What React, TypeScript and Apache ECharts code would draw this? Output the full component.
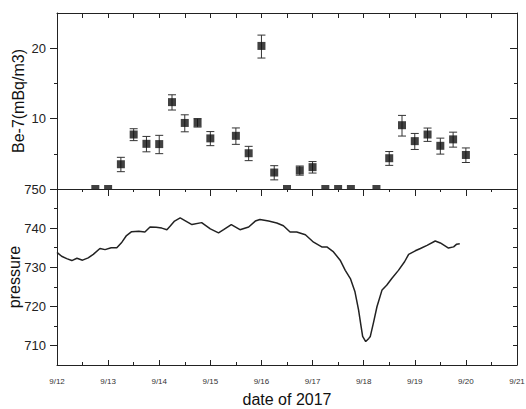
import React, { useEffect, useRef } from "react";
import * as echarts from "echarts";

// Be-7 concentration (mBq/m3), time in days of September 2017
const beTimes = [13.25, 13.5, 13.75, 14.0, 14.25, 14.5, 14.75, 15.0, 15.5, 15.75, 16.0, 16.25, 16.75, 17.0, 18.5, 18.75, 19.0, 19.25, 19.5, 19.75, 20.0];
const beValues = [6.38, 8.55, 7.8, 7.78, 11.76, 9.58, 9.6, 8.23, 8.44, 7.11, 20.45, 5.88, 6.0, 6.2, 6.77, 9.37, 8.01, 8.55, 7.65, 8.15, 6.99];
const beErrors = [0.45, 0.5, 0.59, 0.7, 0.88, 0.8, 0.4, 0.57, 0.68, 0.5, 2.3, 0.41, 0.27, 0.35, 0.46, 0.95, 0.63, 0.56, 0.6, 0.6, 0.5];
// samples below detection limit (drawn at the axis floor)
const ndTimes = [12.75, 13.0, 16.5, 17.25, 17.5, 17.75, 18.25];
const ndLevel = 5;

// pressure
const pTimes = [12.0, 12.09, 12.19, 12.29, 12.39, 12.5, 12.61, 12.71, 12.84, 12.94, 13.06, 13.17, 13.27, 13.36, 13.46, 13.6, 13.72, 13.82, 13.94, 14.05, 14.15, 14.22, 14.3, 14.41, 14.52, 14.64, 14.83, 15.0, 15.16, 15.26, 15.41, 15.58, 15.75, 15.88, 15.97, 16.14, 16.3, 16.43, 16.56, 16.69, 16.86, 17.02, 17.18, 17.28, 17.41, 17.54, 17.64, 17.74, 17.83, 17.9, 17.95, 17.98, 18.04, 18.1, 18.13, 18.19, 18.26, 18.36, 18.45, 18.55, 18.68, 18.8, 18.88, 19.01, 19.11, 19.24, 19.4, 19.5, 19.66, 19.76, 19.82, 19.88];
const pValues = [733.8, 732.8, 732.2, 731.7, 732.3, 731.8, 732.4, 733.3, 734.8, 734.5, 735.0, 735.0, 736.4, 738.1, 739.1, 739.2, 739.0, 740.3, 740.2, 740.0, 739.6, 740.6, 741.8, 742.6, 741.8, 740.9, 741.4, 739.8, 738.8, 739.6, 740.9, 739.6, 740.3, 741.8, 742.2, 741.8, 741.3, 740.6, 739.0, 739.0, 738.3, 736.4, 735.2, 735.2, 733.9, 731.8, 729.2, 727.1, 723.7, 719.1, 714.8, 712.3, 711.0, 711.8, 712.3, 715.7, 719.9, 724.2, 725.4, 727.1, 729.2, 731.4, 733.3, 734.2, 734.8, 735.6, 736.7, 736.2, 734.9, 735.2, 735.9, 736.0];

const beMajorTicks = [10, 20];
const beMinorTicks = [7.07, 14.14];
const pMajorTicks = [710, 720, 730, 740, 750];
const pMinorTicks = [715, 725, 735, 745];
const pRightTicks = [710, 715, 720, 725, 730, 735, 740, 745];

const INK = "#222";
const FONT = "'Liberation Sans', Arial, sans-serif";

export default function App() {
  const ref = useRef<HTMLDivElement>(null);
  useEffect(() => {
    if (!ref.current) return;
    const chart = echarts.init(ref.current, undefined, { renderer: "svg" });
    const line = { show: true, lineStyle: { color: INK, width: 1 } };
    const noLabel = { show: false };
    const noSplit = { show: false };
    const xBase = { type: "value", min: 12, max: 21, splitLine: noSplit, axisLine: line };
    const beAxis = { type: "log", gridIndex: 0, min: 5, max: 28.28, splitLine: noSplit };
    const pAxis = { type: "value", gridIndex: 1, min: 705, max: 750, splitLine: noSplit };

    const option: any = {
      animation: false,
      backgroundColor: "#fff",
      textStyle: { fontFamily: FONT },
      grid: [
        { left: 57, right: 9, top: 13, height: 176, containLabel: false, outerBoundsMode: "none" },
        { left: 57, right: 9, top: 189, height: 176, containLabel: false, outerBoundsMode: "none" },
      ],
      xAxis: [
        { ...xBase, gridIndex: 0, position: "bottom", axisTick: { show: false }, axisLabel: noLabel },
        { ...xBase, gridIndex: 0, position: "top", interval: 0.5, axisTick: { inside: true, length: 5, lineStyle: { color: INK } }, axisLabel: noLabel },
        {
          ...xBase, gridIndex: 1, position: "bottom", interval: 1,
          axisTick: { inside: true, length: 5, lineStyle: { color: INK } },
          minorTick: { show: true, splitNumber: 2, length: 3, lineStyle: { color: INK } },
          axisLabel: { formatter: (v: number) => `9/${v}`, fontSize: 8, color: "#333", margin: 12 },
          name: "date of 2017", nameLocation: "middle", nameGap: 26,
          nameTextStyle: { fontSize: 16, color: "#111" },
        },
        {
          ...xBase, gridIndex: 1, position: "top", interval: 1,
          axisTick: { inside: true, length: 7, lineStyle: { color: INK } },
          minorTick: { show: true, splitNumber: 2, length: 3, lineStyle: { color: INK } },
          axisLabel: noLabel,
        },
      ],
      yAxis: [
        {
          ...beAxis, position: "left", axisLine: line,
          axisTick: { length: 7, customValues: beMajorTicks, lineStyle: { color: INK } },
          axisLabel: { customValues: beMajorTicks, fontSize: 13, color: "#222", margin: 11 },
          name: "Be-7(mBq/m3)", nameLocation: "middle", nameGap: 31, nameMoveOverlap: false,
          nameTextStyle: { fontSize: 16, color: "#111" },
        },
        { ...beAxis, position: "left", axisLine: { show: false }, axisTick: { length: 3, customValues: beMinorTicks, lineStyle: { color: INK } }, axisLabel: noLabel },
        { ...beAxis, position: "right", axisLine: line, axisTick: { inside: true, length: 7, customValues: beMajorTicks, lineStyle: { color: INK } }, axisLabel: noLabel },
        { ...beAxis, position: "right", axisLine: { show: false }, axisTick: { inside: true, length: 3, customValues: beMinorTicks, lineStyle: { color: INK } }, axisLabel: noLabel },
        {
          ...pAxis, position: "left", axisLine: line,
          axisTick: { length: 7, customValues: pMajorTicks, lineStyle: { color: INK } },
          axisLabel: { customValues: pMajorTicks, fontSize: 13, color: "#222", margin: 11 },
          name: "pressure", nameLocation: "middle", nameGap: 35, nameMoveOverlap: false,
          nameTextStyle: { fontSize: 16, color: "#111" },
        },
        { ...pAxis, position: "left", axisLine: { show: false }, axisTick: { length: 3, customValues: pMinorTicks, lineStyle: { color: INK } }, axisLabel: noLabel },
        { ...pAxis, position: "right", axisLine: line, axisTick: { inside: true, length: 4, customValues: pRightTicks, lineStyle: { color: INK } }, axisLabel: noLabel },
      ],
      series: [
        {
          type: "line", xAxisIndex: 2, yAxisIndex: 4,
          data: pTimes.map((t, i) => [t, pValues[i]]),
          showSymbol: false, symbol: "none",
          lineStyle: { color: INK, width: 1.5 },
        },
        {
          type: "custom", xAxisIndex: 0, yAxisIndex: 0,
          data: beTimes.map((t, i) => [t, beValues[i], beErrors[i]]),
          encode: { x: 0, y: 1 },
          renderItem: (params: any, api: any) => {
            const t = api.value(0), v = api.value(1), e = api.value(2);
            const hi = api.coord([t, v + e]);
            const lo = api.coord([t, v - e]);
            const w = 4;
            const style = { stroke: "#333", lineWidth: 1 };
            return {
              type: "group",
              children: [
                { type: "line", shape: { x1: hi[0], y1: hi[1], x2: lo[0], y2: lo[1] }, style },
                { type: "line", shape: { x1: hi[0] - w, y1: hi[1], x2: hi[0] + w, y2: hi[1] }, style },
                { type: "line", shape: { x1: lo[0] - w, y1: lo[1], x2: lo[0] + w, y2: lo[1] }, style },
              ],
            };
          },
          z: 2,
        },
        {
          type: "scatter", xAxisIndex: 0, yAxisIndex: 0,
          data: beTimes.map((t, i) => [t, beValues[i]]),
          symbol: "rect", symbolSize: 8,
          itemStyle: { color: "#111" }, z: 3,
        },
        {
          type: "scatter", xAxisIndex: 0, yAxisIndex: 0,
          data: ndTimes.map((t) => [t, ndLevel]),
          symbol: "rect", symbolSize: [8, 4], symbolOffset: [0, -2],
          itemStyle: { color: "#111" }, z: 3,
        },
      ],
    };
    chart.setOption(option);
    return () => chart.dispose();
  }, []);
  return (
    <div
      ref={ref}
      style={{ position: "fixed", left: 0, top: 0, width: 526, height: 409, background: "#fff" }}
    />
  );
}
